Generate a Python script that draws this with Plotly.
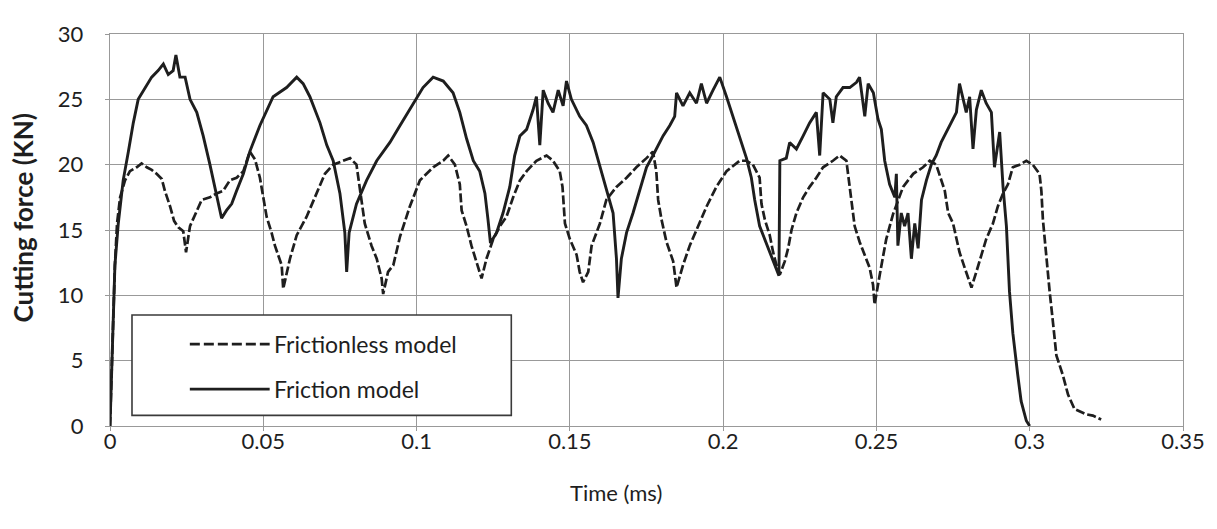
import plotly.graph_objects as go

# ---- data (time in ms, force in kN) ----
friction_t = [0.0000, 0.0005, 0.0010, 0.0016, 0.0027, 0.0043, 0.0060, 0.0076, 0.0092, 0.0109,
              0.0136, 0.0157, 0.0174, 0.0190, 0.0206, 0.0215, 0.0228, 0.0245, 0.0261, 0.0283,
              0.0304, 0.0326, 0.0342, 0.0364, 0.0380, 0.0397, 0.0413, 0.0435, 0.0456, 0.0489,
              0.0532, 0.0576, 0.0609, 0.0630, 0.0652, 0.0685, 0.0707, 0.0728, 0.0750, 0.0766,
              0.0772, 0.0780, 0.0804, 0.0837, 0.0870, 0.0913, 0.0946, 0.0989, 0.1021, 0.1054,
              0.1087, 0.1119, 0.1141, 0.1163, 0.1185, 0.1206, 0.1223, 0.1233, 0.1241, 0.1261,
              0.1282, 0.1304, 0.1320, 0.1337, 0.1359, 0.1380, 0.1391, 0.1402, 0.1413, 0.1429,
              0.1445, 0.1462, 0.1478, 0.1489, 0.1505, 0.1532, 0.1554, 0.1576, 0.1598, 0.1619,
              0.1641, 0.1652, 0.1657, 0.1668, 0.1685, 0.1706, 0.1728, 0.1750, 0.1771, 0.1804,
              0.1826, 0.1842, 0.1848, 0.1869, 0.1891, 0.1913, 0.1929, 0.1946, 0.1967, 0.1989,
              0.2011, 0.2032, 0.2054, 0.2076, 0.2092, 0.2103, 0.2119, 0.2136, 0.2152, 0.2168,
              0.2182, 0.2185, 0.2206, 0.2217, 0.2239, 0.2261, 0.2282, 0.2304, 0.2315, 0.2326,
              0.2348, 0.2358, 0.2369, 0.2391, 0.2413, 0.2435, 0.2445, 0.2462, 0.2473, 0.2490,
              0.2505, 0.2516, 0.2527, 0.2543, 0.2560, 0.2565, 0.2570, 0.2581, 0.2592, 0.2603,
              0.2614, 0.2625, 0.2636, 0.2647, 0.2663, 0.2679, 0.2695, 0.2711, 0.2728, 0.2739,
              0.2761, 0.2771, 0.2793, 0.2804, 0.2815, 0.2826, 0.2842, 0.2858, 0.2875, 0.2885,
              0.2902, 0.2913, 0.2924, 0.2934, 0.2945, 0.2961, 0.2972, 0.2989, 0.3000]
friction_f = [0.0, 4.0, 8.0, 12.3, 15.5, 18.8, 21.0, 23.2, 25.0, 25.7,
              26.7, 27.2, 27.7, 26.9, 27.2, 28.4, 26.7, 26.7, 25.0, 24.0,
              22.2, 20.0, 18.3, 15.9, 16.5, 17.0, 18.0, 19.3, 21.0, 23.0,
              25.2, 25.9, 26.7, 26.2, 25.2, 23.2, 21.5, 20.3, 17.8, 14.8,
              11.8, 14.8, 17.0, 18.8, 20.3, 21.7, 23.0, 24.7, 25.9, 26.7,
              26.4, 25.5, 24.0, 22.0, 20.3, 19.5, 17.8, 15.8, 14.0, 14.8,
              16.3, 18.3, 20.7, 22.2, 22.7, 24.2, 25.2, 21.5, 25.7, 24.7,
              24.0, 25.7, 24.5, 26.4, 25.0, 23.7, 23.0, 21.7, 19.8, 18.0,
              16.3, 12.8, 9.8, 12.8, 14.8, 16.3, 18.0, 19.8, 20.7, 22.2,
              23.0, 23.7, 25.5, 24.5, 25.5, 24.7, 26.2, 24.7, 25.7, 26.7,
              25.2, 23.7, 22.0, 20.5, 19.0, 17.3, 15.3, 14.3, 13.3, 12.3,
              11.5, 20.3, 20.5, 21.7, 21.2, 22.2, 23.2, 24.0, 20.7, 25.5,
              25.0, 23.2, 25.2, 25.9, 25.9, 26.3, 26.7, 23.7, 26.2, 25.5,
              23.5, 22.7, 20.3, 18.5, 17.5, 19.3, 13.8, 16.3, 15.3, 16.3,
              12.8, 15.5, 13.6, 17.3, 18.8, 20.0, 20.7, 21.7, 22.5, 23.0,
              24.0, 26.2, 24.0, 25.2, 21.2, 24.2, 25.7, 24.7, 24.0, 19.8,
              22.5, 18.3, 15.3, 10.3, 7.1, 3.9, 1.9, 0.4, 0.0]

frictionless_t = [0.0000, 0.0005, 0.0010, 0.0016, 0.0023, 0.0033, 0.0049, 0.0065, 0.0087, 0.0103,
                  0.0120, 0.0136, 0.0152, 0.0169, 0.0179, 0.0196, 0.0209, 0.0223, 0.0239, 0.0248,
                  0.0261, 0.0283, 0.0299, 0.0326, 0.0348, 0.0369, 0.0391, 0.0413, 0.0435, 0.0456,
                  0.0473, 0.0489, 0.0500, 0.0511, 0.0527, 0.0538, 0.0560, 0.0565, 0.0587, 0.0609,
                  0.0641, 0.0674, 0.0701, 0.0728, 0.0761, 0.0783, 0.0804, 0.0815, 0.0831, 0.0853,
                  0.0870, 0.0886, 0.0891, 0.0907, 0.0924, 0.0946, 0.0978, 0.1011, 0.1054, 0.1087,
                  0.1103, 0.1125, 0.1141, 0.1147, 0.1163, 0.1179, 0.1196, 0.1212, 0.1228, 0.1250,
                  0.1272, 0.1293, 0.1315, 0.1337, 0.1359, 0.1391, 0.1424, 0.1445, 0.1467, 0.1476,
                  0.1484, 0.1500, 0.1522, 0.1532, 0.1543, 0.1560, 0.1571, 0.1598, 0.1619, 0.1652,
                  0.1685, 0.1717, 0.1750, 0.1771, 0.1782, 0.1788, 0.1799, 0.1815, 0.1837, 0.1848,
                  0.1869, 0.1891, 0.1913, 0.1946, 0.1978, 0.2011, 0.2054, 0.2076, 0.2097, 0.2119,
                  0.2125, 0.2136, 0.2152, 0.2163, 0.2174, 0.2185, 0.2201, 0.2212, 0.2223, 0.2239,
                  0.2261, 0.2282, 0.2304, 0.2326, 0.2358, 0.2380, 0.2402, 0.2418, 0.2429, 0.2445,
                  0.2462, 0.2478, 0.2489, 0.2494, 0.2511, 0.2532, 0.2554, 0.2587, 0.2620, 0.2652,
                  0.2674, 0.2695, 0.2723, 0.2734, 0.2750, 0.2761, 0.2771, 0.2788, 0.2799, 0.2810,
                  0.2826, 0.2842, 0.2858, 0.2880, 0.2896, 0.2913, 0.2929, 0.2945, 0.2967, 0.2989,
                  0.3010, 0.3032, 0.3038, 0.3043, 0.3054, 0.3065, 0.3076, 0.3087, 0.3108, 0.3125,
                  0.3146, 0.3184, 0.3206, 0.3233]
frictionless_f = [0.0, 4.0, 8.0, 12.3, 15.5, 17.5, 18.8, 19.5, 19.8, 20.1,
                  19.8, 19.6, 19.3, 18.9, 18.0, 16.8, 15.7, 15.2, 14.9, 13.3,
                  15.3, 16.5, 17.3, 17.5, 17.8, 18.0, 18.8, 19.0, 19.5, 21.0,
                  20.4, 19.0, 17.5, 16.0, 14.8, 13.8, 12.3, 10.5, 12.8, 14.6,
                  16.0, 17.8, 19.3, 20.0, 20.3, 20.5, 20.0, 18.3, 15.5, 13.8,
                  12.8, 11.3, 10.1, 11.8, 12.3, 14.5, 16.8, 18.8, 19.8, 20.3,
                  20.7, 20.0, 18.5, 16.5, 15.3, 13.8, 12.6, 11.3, 12.8, 14.3,
                  15.3, 16.0, 17.5, 18.8, 19.5, 20.3, 20.7, 20.3, 19.5, 18.3,
                  15.5, 14.3, 13.1, 11.8, 11.0, 11.8, 13.8, 15.5, 17.3, 18.3,
                  19.0, 19.8, 20.5, 21.0, 19.5, 17.3, 15.8, 14.1, 12.6, 10.6,
                  12.3, 13.8, 15.0, 16.8, 18.3, 19.5, 20.3, 20.3, 20.0, 19.0,
                  17.0, 15.8, 14.6, 13.3, 12.3, 11.6, 12.6, 13.6, 15.0, 16.3,
                  17.5, 18.3, 19.0, 19.8, 20.3, 20.7, 20.3, 17.5, 15.3, 14.1,
                  13.1, 12.1, 10.8, 9.3, 11.6, 14.3, 16.2, 18.3, 19.3, 19.8,
                  20.3, 20.0, 18.0, 16.3, 15.5, 14.3, 13.3, 12.1, 11.3, 10.6,
                  11.8, 13.1, 14.3, 15.5, 16.8, 17.8, 18.5, 19.8, 20.0, 20.3,
                  20.0, 19.3, 18.0, 15.8, 12.8, 10.3, 7.9, 5.4, 3.9, 2.4,
                  1.3, 0.9, 0.8, 0.5]

x_ticks = [0, 0.05, 0.1, 0.15, 0.2, 0.25, 0.3, 0.35]
x_tick_labels = ["0", "0.05", "0.1", "0.15", "0.2", "0.25", "0.3", "0.35"]
y_ticks = [0, 5, 10, 15, 20, 25, 30]
y_tick_labels = ["0", "5", "10", "15", "20", "25", "30"]

series_names = ["Frictionless model", "Friction model"]

FONT = "Lato"
INK = "#1e1e1e"
GRID = "#999999"

fig = go.Figure()
fig.add_trace(go.Scatter(x=frictionless_t, y=frictionless_f, mode="lines",
                         name=series_names[0],
                         line=dict(color=INK, width=2.7, dash="9px,3px")))
fig.add_trace(go.Scatter(x=friction_t, y=friction_f, mode="lines",
                         name=series_names[1],
                         line=dict(color=INK, width=2.9)))

axis_common = dict(showgrid=True, gridcolor=GRID, gridwidth=1.4,
                   showline=True, linecolor=GRID, linewidth=1.4, mirror=True,
                   ticks="outside", ticklen=4, tickcolor=GRID, tickwidth=1.2,
                   zeroline=False, ticklabeloverflow="allow",
                   tickfont=dict(family=FONT, size=22, color=INK))

fig.update_xaxes(range=[0, 0.35], tickvals=x_ticks, ticktext=x_tick_labels,
                 ticklabelstandoff=-9, **axis_common)
fig.update_yaxes(range=[0, 30], tickvals=y_ticks, ticktext=y_tick_labels,
                 ticklabelstandoff=17, **axis_common)

# manual legend box (as in the original)
lx0, lx1, ly0, ly1 = 0.0205, 0.374, 0.027, 0.283
fig.add_shape(type="rect", xref="paper", yref="paper", x0=lx0, x1=lx1, y0=ly0, y1=ly1,
              line=dict(color="#3a3a3a", width=1.6), fillcolor="white", layer="above")
fig.add_shape(type="line", xref="paper", yref="paper", x0=0.0744, x1=0.1488, y0=0.209, y1=0.209,
              line=dict(color=INK, width=2.7, dash="10px,4px"), layer="above")
fig.add_shape(type="line", xref="paper", yref="paper", x0=0.0744, x1=0.1488, y0=0.094, y1=0.094,
              line=dict(color=INK, width=2.9), layer="above")
fig.add_annotation(xref="paper", yref="paper", x=0.151, y=0.209, xanchor="left", yanchor="middle",
                   text=series_names[0], showarrow=False,
                   font=dict(family=FONT, size=23, color=INK))
fig.add_annotation(xref="paper", yref="paper", x=0.151, y=0.094, xanchor="left", yanchor="middle",
                   text=series_names[1], showarrow=False,
                   font=dict(family=FONT, size=23, color=INK))

# axis titles
fig.add_annotation(xref="paper", yref="paper", x=(617 - 110) / 1075, y=(426 - 495) / 404,
                   xanchor="center", yanchor="middle", text="Time (ms)", showarrow=False,
                   font=dict(family=FONT, size=22, color=INK))
fig.add_annotation(xref="paper", yref="paper", x=(23 - 110) / 1075, y=(426 - 212) / 404,
                   xanchor="center", yanchor="middle", text="<b>Cutting force (KN)</b>",
                   textangle=-90, showarrow=False,
                   font=dict(family=FONT, size=26, color=INK))

# page has an 8px body margin, so the figure is offset by 8px
fig.update_layout(width=1209, height=521, showlegend=False,
                  margin=dict(l=102, r=32, t=14, b=103),
                  paper_bgcolor="white", plot_bgcolor="white")

fig.write_html("out.html")
